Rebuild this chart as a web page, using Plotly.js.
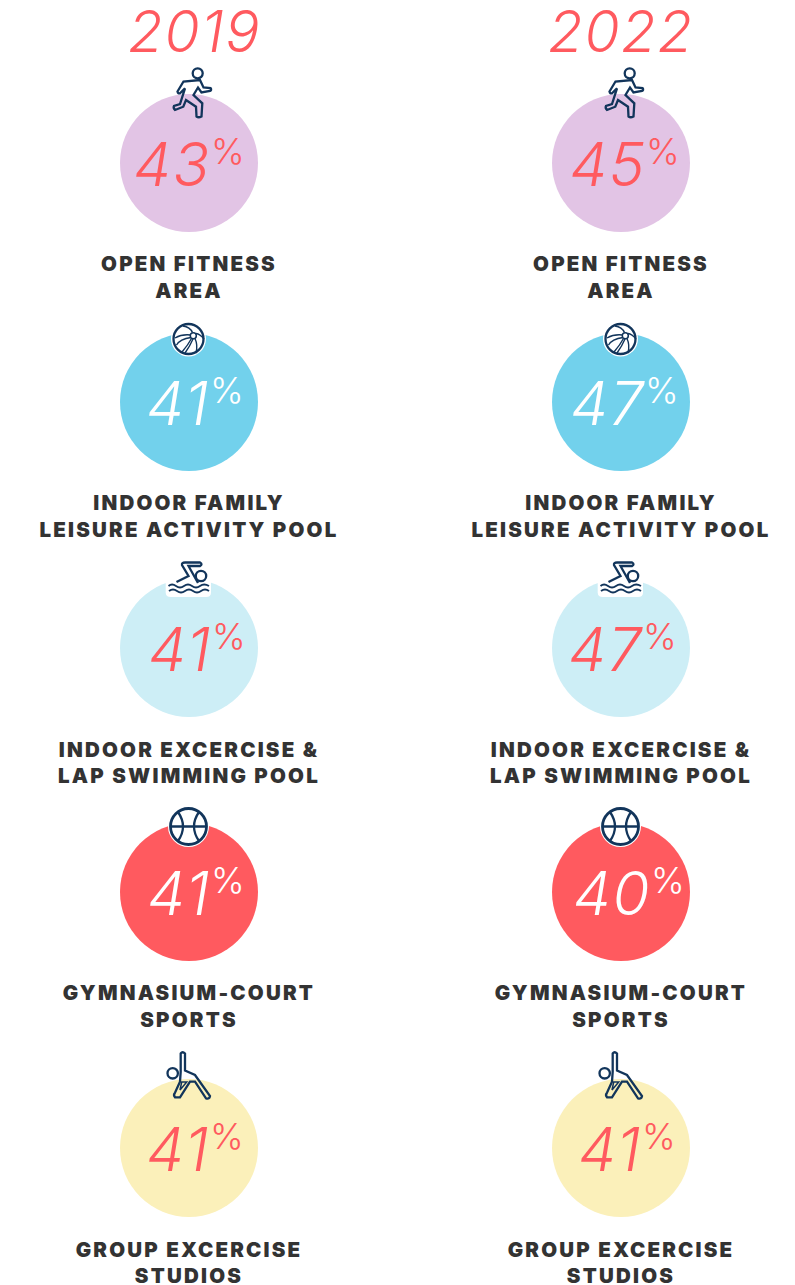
<!DOCTYPE html>
<html><head><meta charset="utf-8">
<script src="https://cdn.plot.ly/plotly-3.0.1.min.js"></script>
<style>html,body{margin:0;padding:0;background:#fff}#c{width:795px;height:1285px}</style></head>
<body><div id="c"></div>
<script>
const years = ["2019", "2022"];
const categories = [
  "OPEN FITNESS<br>AREA",
  "INDOOR FAMILY<br>LEISURE ACTIVITY POOL",
  "INDOOR EXCERCISE &<br>LAP SWIMMING POOL",
  "GYMNASIUM-COURT<br>SPORTS",
  "GROUP EXCERCISE<br>STUDIOS"
];
const values2019 = [43, 41, 41, 41, 41];
const values2022 = [45, 47, 47, 40, 41];

// layout only
const colX = [189, 621];
const yearX = [194.5, 621];
const rowY = [163, 402, 648, 892, 1148];
const labelY = [279.5, 518.5, 765, 1008.5, 1265];
const seam = [[210, 209, 211, 210, 209], [645, 644, 642, 650, 641]];
const fills = ["#E2C4E5", "#72D1EC", "#CDEEF6", "#FF5A5F", "#FBF0BA"];
const numColor = ["#FF5A5F", "#FFFFFF", "#FF5A5F", "#FFFFFF", "#FF5A5F"];
const RED = "#FF5A5F", NAVY = "#12355B", INK = "#333333";
const NUMFONT = "Inter";

const columns = [values2019, values2022];
const traces = [];
columns.forEach((vals, c) => {
  traces.push({ type: "scatter", mode: "markers", x: rowY.map(() => colX[c]), y: rowY, hoverinfo: "skip",
    marker: { size: 138, color: fills, line: { width: 0 } } });
  traces.push({ type: "scatter", mode: "text", x: seam[c].map(s => s + 1), y: rowY.map(y => y + 8), text: vals.map(String), textposition: "middle left", hoverinfo: "skip",
    textfont: { family: NUMFONT, size: 60, weight: 350, style: "italic", color: numColor } });
  traces.push({ type: "scatter", mode: "text", x: seam[c].map(s => s + 1), y: rowY.map(y => y - 8), text: vals.map(() => "%"), textposition: "middle right", hoverinfo: "skip",
    textfont: { family: NUMFONT, size: 36, weight: 300, color: numColor } });
  traces.push({ type: "scatter", mode: "text", x: rowY.map(() => colX[c]), y: labelY, text: categories, textposition: "middle center", hoverinfo: "skip",
    textfont: { family: "Inter", size: 20.5, weight: 900, color: INK } });
});
traces.push({ type: "scatter", mode: "text", x: yearX, y: [38, 38], text: years, textposition: "middle center", hoverinfo: "skip",
  textfont: { family: NUMFONT, size: 57, weight: 350, style: "italic", color: RED } });

// icon geometry, drawn for the left column and shifted for the right
const shapes = [];
function shift(d, dx) {
  let isX = true;
  return d.replace(/-?\d+(\.\d+)?/g, m => { const v = isX ? +m + dx : +m; isX = !isX; return String(v); });
}
const line = { color: NAVY, width: 2.3 };
const noLine = { width: 0 };
function addPath(d, dx, o) { shapes.push(Object.assign({ type: "path", path: shift(d, dx), xref: "x", yref: "y", layer: "above", line: line }, o || {})); }
function addCircle(x, y, r, dx, o) { shapes.push(Object.assign({ type: "circle", x0: x - r + dx, x1: x + r + dx, y0: y - r, y1: y + r, xref: "x", yref: "y", layer: "above", line: line }, o || {})); }

[0, 432].forEach(dx => {
  // runner
  addCircle(197.7, 73.3, 5, dx);
  addPath("M177.5 91.5 L183.5 81.5 L200 80 L203.5 87.5 L210.5 88 Q212 90 210 91 L201.5 92.5 L198 87.5 L193.5 95 L202.3 103.3 L201.5 116.5 Q198.5 118 196.5 116.5 L196 106.7 L186 100 L183.3 106.7 L175 110 Q173 108 174 106 L180 104 L185 88.3 L180 93.3 Q178 94 177.5 91.5 Z", dx);
  // beach ball
  addCircle(188.5, 339, 17.5, dx, { fillcolor: "#fff", line: noLine });
  addCircle(188.5, 339, 15, dx);
  addCircle(193.3, 335.7, 3, dx, { line: { color: NAVY, width: 1.5 } });
  const thin = { line: { color: NAVY, width: 1.4 } };
  addPath("M175 338 Q182 334 190.5 335", dx, thin);
  addPath("M176.5 345 Q180 339 191 337.5", dx, thin);
  addPath("M183 326 Q190 327 192.5 332.5", dx, thin);
  addPath("M196 333.5 Q200 334 204 339", dx, thin);
  addPath("M195 338.5 Q198 345 196 353", dx, thin);
  addPath("M182 352 Q188 345 191.5 338.5", dx, thin);
  addPath("M185 353 Q190 346 193 339", dx, thin);
  // swimmer
  addPath("M165.7 575 L211 575 L211 592.5 Q211 597 206 597 L171 597 Q165.7 597 165.7 592.5 Z", dx, { fillcolor: "#fff", line: noLine });
  addCircle(201, 576, 5.2, dx);
  addPath("M176.5 582 L188.5 576 L182 565 Q181.5 562.5 185 562.5 L200 562.5 Q203 564 200 566 L188.5 566 L198 583", dx);
  addPath("M168.5 586 Q172 583 176 586 T184 586 T192 586 T200 586 T209 586", dx, { line: { color: NAVY, width: 1.8 } });
  addPath("M169 591 Q173 588 177 591 T185 591 T193 591 T201 591 T209 591", dx, { line: { color: NAVY, width: 1.8 } });
  // basketball
  addCircle(188.5, 826.5, 20.5, dx, { fillcolor: "#fff", line: noLine });
  addCircle(188.5, 826.5, 18, dx, { line: { color: NAVY, width: 2.8 } });
  addPath("M170.5 826.5 L206.5 826.5", dx);
  addPath("M178 812 Q188 826.5 178 841", dx);
  addPath("M199 812 Q189 826.5 199 841", dx);
  // yoga
  addCircle(172.7, 1073.3, 5.2, dx);
  addPath("M180.7 1053.5 Q182.5 1051 185 1053.5 L185 1070.5 L195 1075 L210 1096 Q209.5 1099.5 206 1098.3 L195 1081.7 L190 1081.7 L180 1097.3 L175 1097.3 Q173 1095 175 1092.7 L180 1081.7 L180.7 1071.7 Z", dx);
  addPath("M181.7 1082 L186.7 1082 L180 1090 Z", dx, { line: { color: NAVY, width: 1.5 } });
});

const axis = { visible: false, fixedrange: true, showgrid: false, zeroline: false };
Plotly.newPlot("c", traces, {
  width: 795, height: 1285, margin: { l: 0, r: 0, t: 0, b: 0 },
  paper_bgcolor: "#fff", plot_bgcolor: "#fff", showlegend: false,
  xaxis: Object.assign({ range: [0, 795] }, axis),
  yaxis: Object.assign({ range: [1285, 0] }, axis),
  shapes: shapes
}, { displayModeBar: false, staticPlot: true }).then(() => {
  // the reference's faces are wider than any installed one: open up the tracking
  document.querySelectorAll("#c .textpoint text").forEach(t => {
    const s = parseFloat(getComputedStyle(t).fontSize);
    if (s === 20.5) t.style.letterSpacing = "2.2px";
    else if (s === 60) t.style.letterSpacing = "1.5px";
    else if (s === 57) t.style.letterSpacing = "1.5px";
  });
});
</script></body></html>
